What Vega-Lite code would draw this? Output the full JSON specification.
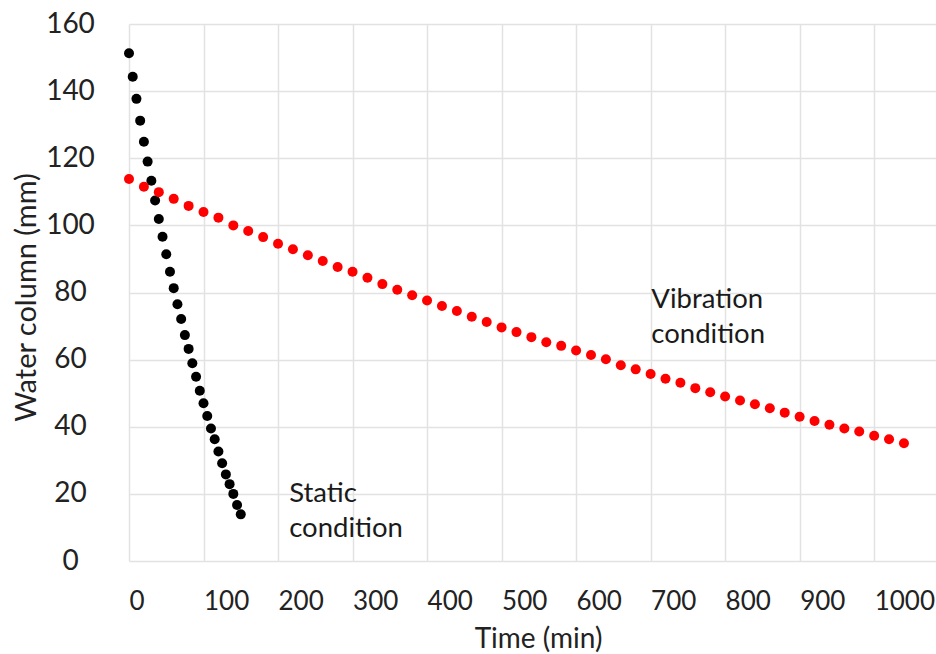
{
  "$schema": "https://vega.github.io/schema/vega-lite/v6.json",
  "width": 807,
  "height": 537,
  "autosize": {"type": "none"},
  "padding": {"left": 129, "top": 24, "right": 0, "bottom": 93},
  "background": "white",
  "config": {"view": {"stroke": null}, "font": "Lato"},
  "datasets": {
    "points": [
      {"condition": "Static", "time": 0, "water": 151.3},
      {"condition": "Static", "time": 5, "water": 144.3},
      {"condition": "Static", "time": 10, "water": 137.7},
      {"condition": "Static", "time": 15, "water": 131.2},
      {"condition": "Static", "time": 20, "water": 124.9},
      {"condition": "Static", "time": 25, "water": 119.0},
      {"condition": "Static", "time": 30, "water": 113.3},
      {"condition": "Static", "time": 35, "water": 107.4},
      {"condition": "Static", "time": 40, "water": 101.9},
      {"condition": "Static", "time": 45, "water": 96.6},
      {"condition": "Static", "time": 50, "water": 91.4},
      {"condition": "Static", "time": 55, "water": 86.2},
      {"condition": "Static", "time": 60, "water": 81.3},
      {"condition": "Static", "time": 65, "water": 76.5},
      {"condition": "Static", "time": 70, "water": 72.1},
      {"condition": "Static", "time": 75, "water": 67.3},
      {"condition": "Static", "time": 80, "water": 63.2},
      {"condition": "Static", "time": 85, "water": 58.9},
      {"condition": "Static", "time": 90, "water": 54.9},
      {"condition": "Static", "time": 95, "water": 50.7},
      {"condition": "Static", "time": 100, "water": 47.0},
      {"condition": "Static", "time": 105, "water": 43.2},
      {"condition": "Static", "time": 110, "water": 39.5},
      {"condition": "Static", "time": 115, "water": 36.3},
      {"condition": "Static", "time": 120, "water": 32.6},
      {"condition": "Static", "time": 125, "water": 29.1},
      {"condition": "Static", "time": 130, "water": 25.8},
      {"condition": "Static", "time": 135, "water": 22.9},
      {"condition": "Static", "time": 140, "water": 20.0},
      {"condition": "Static", "time": 145, "water": 16.7},
      {"condition": "Static", "time": 150, "water": 13.9},
      {"condition": "Vibration", "time": 0, "water": 113.8},
      {"condition": "Vibration", "time": 20, "water": 111.5},
      {"condition": "Vibration", "time": 40, "water": 109.9},
      {"condition": "Vibration", "time": 60, "water": 107.9},
      {"condition": "Vibration", "time": 80, "water": 105.8},
      {"condition": "Vibration", "time": 100, "water": 104.0},
      {"condition": "Vibration", "time": 120, "water": 102.3},
      {"condition": "Vibration", "time": 140, "water": 100.0},
      {"condition": "Vibration", "time": 160, "water": 98.3},
      {"condition": "Vibration", "time": 180, "water": 96.5},
      {"condition": "Vibration", "time": 200, "water": 94.5},
      {"condition": "Vibration", "time": 220, "water": 92.9},
      {"condition": "Vibration", "time": 240, "water": 91.1},
      {"condition": "Vibration", "time": 260, "water": 89.4},
      {"condition": "Vibration", "time": 280, "water": 87.6},
      {"condition": "Vibration", "time": 300, "water": 86.2},
      {"condition": "Vibration", "time": 320, "water": 84.4},
      {"condition": "Vibration", "time": 340, "water": 82.5},
      {"condition": "Vibration", "time": 360, "water": 80.8},
      {"condition": "Vibration", "time": 380, "water": 79.2},
      {"condition": "Vibration", "time": 400, "water": 77.6},
      {"condition": "Vibration", "time": 420, "water": 76.0},
      {"condition": "Vibration", "time": 440, "water": 74.5},
      {"condition": "Vibration", "time": 460, "water": 72.8},
      {"condition": "Vibration", "time": 480, "water": 71.2},
      {"condition": "Vibration", "time": 500, "water": 69.6},
      {"condition": "Vibration", "time": 520, "water": 68.2},
      {"condition": "Vibration", "time": 540, "water": 66.7},
      {"condition": "Vibration", "time": 560, "water": 65.2},
      {"condition": "Vibration", "time": 580, "water": 64.1},
      {"condition": "Vibration", "time": 600, "water": 62.7},
      {"condition": "Vibration", "time": 620, "water": 61.4},
      {"condition": "Vibration", "time": 640, "water": 60.1},
      {"condition": "Vibration", "time": 660, "water": 58.3},
      {"condition": "Vibration", "time": 680, "water": 57.1},
      {"condition": "Vibration", "time": 700, "water": 55.7},
      {"condition": "Vibration", "time": 720, "water": 54.3},
      {"condition": "Vibration", "time": 740, "water": 53.1},
      {"condition": "Vibration", "time": 760, "water": 51.5},
      {"condition": "Vibration", "time": 780, "water": 50.3},
      {"condition": "Vibration", "time": 800, "water": 49.0},
      {"condition": "Vibration", "time": 820, "water": 47.8},
      {"condition": "Vibration", "time": 840, "water": 46.7},
      {"condition": "Vibration", "time": 860, "water": 45.5},
      {"condition": "Vibration", "time": 880, "water": 44.2},
      {"condition": "Vibration", "time": 900, "water": 43.0},
      {"condition": "Vibration", "time": 920, "water": 41.7},
      {"condition": "Vibration", "time": 940, "water": 40.6},
      {"condition": "Vibration", "time": 960, "water": 39.5},
      {"condition": "Vibration", "time": 980, "water": 38.6},
      {"condition": "Vibration", "time": 1000, "water": 37.3},
      {"condition": "Vibration", "time": 1020, "water": 36.3},
      {"condition": "Vibration", "time": 1040, "water": 35.1}
    ],
    "notes": [
      {"note": "Static\ncondition", "time": 215, "water": 17.6},
      {"note": "Vibration\ncondition", "time": 701, "water": 75.4}
    ]
  },
  "layer": [
    {
      "data": {"name": "points"},
      "mark": {"type": "circle", "size": 100, "opacity": 1},
      "encoding": {
        "x": {
          "field": "time",
          "type": "quantitative",
          "scale": {"domain": [0, 1083], "nice": false, "zero": false},
          "axis": {
            "values": [0, 100, 200, 300, 400, 500, 600, 700, 800, 900, 1000],
            "format": "d",
            "title": "Time (min)",
            "grid": true,
            "gridColor": "#e2e2e2",
            "gridWidth": 1.5,
            "domain": false,
            "ticks": false,
            "tickSize": 0,
            "labelAlign": "left",
            "labelDx": -2,
            "labelBaseline": "alphabetic",
            "labelPadding": 48.5,
            "labelFontSize": 26,
            "labelFont": "Lato",
            "labelColor": "#222222",
            "labelFlush": false,
            "labelOverlap": false,
            "titleFont": "Lato",
            "titleFontSize": 28,
            "titleFontWeight": "normal",
            "titleColor": "#222222",
            "titleBaseline": "alphabetic",
            "titleAlign": "center",
            "titleX": 409,
            "titleY": 86
          }
        },
        "y": {
          "field": "water",
          "type": "quantitative",
          "scale": {"domain": [0, 160], "nice": false},
          "axis": {
            "values": [0, 20, 40, 60, 80, 100, 120, 140, 160],
            "format": "d",
            "title": "Water column (mm)",
            "grid": true,
            "gridColor": "#e2e2e2",
            "gridWidth": 1.5,
            "domain": false,
            "ticks": false,
            "tickSize": 0,
            "labelAlign": "center",
            "labelBaseline": "middle",
            "labelPadding": 59,
            "labelFontSize": 28,
            "labelFont": "Lato",
            "labelColor": "#222222",
            "labelFlush": false,
            "labelOverlap": false,
            "titleFont": "Lato",
            "titleFontSize": 29,
            "titleFontWeight": "normal",
            "titleColor": "#222222",
            "titleAngle": -90,
            "titleBaseline": "alphabetic",
            "titleAlign": "center",
            "titleX": -94,
            "titleY": 273
          }
        },
        "color": {
          "field": "condition",
          "type": "nominal",
          "scale": {"domain": ["Static", "Vibration"], "range": ["#000000", "#ff0000"]},
          "legend": null
        }
      }
    },
    {
      "data": {"name": "notes"},
      "mark": {
        "type": "text",
        "align": "left",
        "baseline": "alphabetic",
        "font": "Lato",
        "fontSize": 27.5,
        "lineHeight": 35,
        "lineBreak": "\n",
        "color": "#1a1a1a"
      },
      "encoding": {
        "x": {"field": "time", "type": "quantitative"},
        "y": {"field": "water", "type": "quantitative"},
        "text": {"field": "note", "type": "nominal"}
      }
    }
  ]
}
